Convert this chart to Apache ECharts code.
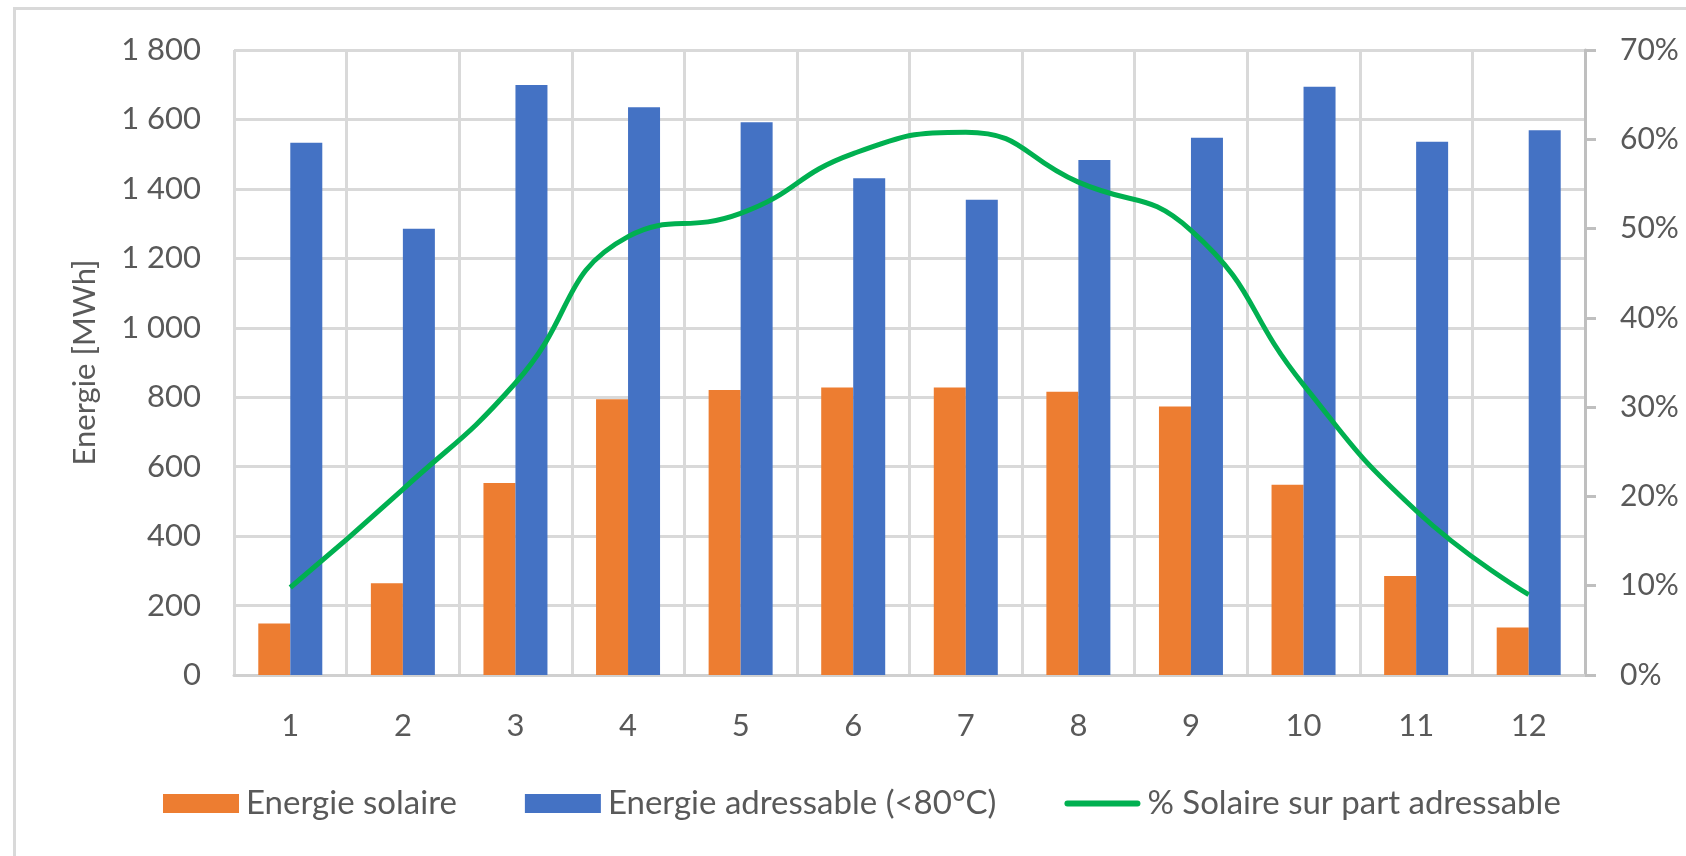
<!DOCTYPE html>
<html><head><meta charset="utf-8">
<script src="https://cdn.jsdelivr.net/npm/echarts@6/dist/echarts.min.js"></script>
<style>html,body{margin:0;padding:0;background:#fff;}#c{width:1686px;height:856px;}</style>
</head><body><div id="c"></div>
<script>
const months = ['1','2','3','4','5','6','7','8','9','10','11','12'];
const energieSolaire = [148, 264, 553, 794, 821, 828, 828, 816, 773, 548, 285, 137];
const energieAdressable = [1533, 1285, 1699, 1635, 1592, 1431, 1369, 1483, 1547, 1694, 1536, 1569];
const pctSolaire = [9.8, 20.8, 32.7, 49.1, 51.7, 58.4, 60.8, 55.2, 49.8, 32.5, 18.4, 9.0];
const leftTicks = {min: 0, max: 1800, interval: 200};
const rightTicks = {min: 0, max: 70, interval: 10};
const seriesNames = ['Energie solaire', 'Energie adressable (<80°C)', '% Solaire sur part adressable'];

const FONT = 'Lato';
const TXT = '#595959';
const chart = echarts.init(document.getElementById('c'), null, {renderer: 'canvas'});
chart.setOption({
  animation: false,
  backgroundColor: '#fff',
  textStyle: {fontFamily: FONT},
  graphic: [{
    type: 'rect', left: 12, top: 6, silent: true,
    shape: {x: 0, y: 0, width: 1700, height: 900},
    style: {fill: null, stroke: '#d9d9d9', lineWidth: 3}
  }],
  grid: {left: 234, right: 101, top: 50, bottom: 181, containLabel: false},
  legend: {
    left: 158, top: 782, itemWidth: 76, itemHeight: 19, itemGap: 68,
    textStyle: {fontFamily: FONT, fontSize: 33, color: TXT, padding: [0, 0, 0, 2]},
    data: [
      {name: seriesNames[0], icon: 'rect'},
      {name: seriesNames[1], icon: 'rect'},
      {name: seriesNames[2], icon: 'path://M3,0h70a3,3 0 0 1 0,6h-70a3,3 0 0 1 0,-6z', itemStyle: {color: '#00B050'}}
    ]
  },
  xAxis: {
    type: 'category', data: months, boundaryGap: true,
    axisLine: {show: true, lineStyle: {color: '#d0d0d0', width: 3}},
    axisTick: {show: false},
    splitLine: {show: true, lineStyle: {color: '#d9d9d9', width: 3}},
    axisLabel: {fontFamily: FONT, fontSize: 31, color: TXT, margin: 35}
  },
  yAxis: [{
    type: 'value', min: leftTicks.min, max: leftTicks.max, interval: leftTicks.interval,
    name: 'Energie [MWh]', nameLocation: 'middle', nameGap: 134, nameRotate: 90,
    nameTextStyle: {fontFamily: FONT, fontSize: 31, color: TXT},
    axisLine: {show: false}, axisTick: {show: false},
    splitLine: {show: true, lineStyle: {color: '#d9d9d9', width: 3}},
    axisLabel: {fontFamily: FONT, fontSize: 31, color: TXT, margin: 33,
      formatter: v => String(v).replace(/\B(?=(\d{3})+(?!\d))/g, ' ')}
  }, {
    type: 'value', position: 'right', min: rightTicks.min, max: rightTicks.max, interval: rightTicks.interval,
    axisLine: {show: true, lineStyle: {color: '#bfbfbf', width: 3}},
    axisTick: {show: true, inside: false, length: 11, lineStyle: {color: '#bfbfbf', width: 3}},
    splitLine: {show: false},
    axisLabel: {fontFamily: FONT, fontSize: 30, color: TXT, margin: 35, formatter: '{value}%'}
  }],
  series: [{
    name: seriesNames[0], type: 'bar', data: energieSolaire, barWidth: 32, barGap: '0%',
    itemStyle: {color: '#ED7D31'}
  }, {
    name: seriesNames[1], type: 'bar', data: energieAdressable, barWidth: 32, barGap: '0%',
    itemStyle: {color: '#4472C4'}
  }, {
    name: seriesNames[2], type: 'line', yAxisIndex: 1, data: pctSolaire, smooth: 0.5,
    showSymbol: false, symbol: 'none',
    lineStyle: {color: '#00B050', width: 5}, itemStyle: {color: '#00B050'}, z: 5
  }]
});
</script></body></html>
